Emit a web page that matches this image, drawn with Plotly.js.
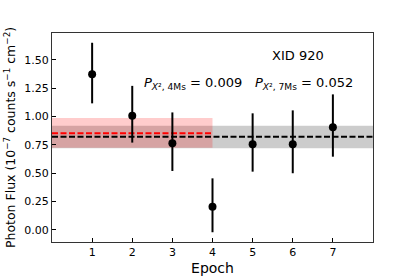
<!DOCTYPE html>
<html>
<head>
<meta charset="utf-8">
<script src="https://cdn.plot.ly/plotly-3.0.1.min.js"></script>
<style>html,body{margin:0;padding:0;background:#fff;}#chart{width:415px;height:277px;}</style>
</head>
<body>
<div id="chart"></div>
<script>
// Data
const epochs = [1, 2, 3, 4, 5, 6, 7];
const flux = [1.372, 1.007, 0.764, 0.205, 0.755, 0.755, 0.905];
const errUp = [0.278, 0.263, 0.272, 0.250, 0.273, 0.299, 0.290];
const errDown = [0.256, 0.237, 0.244, 0.225, 0.241, 0.255, 0.259];

// 7Ms mean and 1-sigma band (all epochs)
const mean7 = 0.822;
const band7 = [0.720, 0.919];
const span7 = [0, 8];
// 4Ms mean and 1-sigma band (epochs 1-4)
const mean4 = 0.852;
const band4 = [0.725, 0.987];
const span4 = [0, 4];

const xTicks = [1, 2, 3, 4, 5, 6, 7];
const yTicks = [0.00, 0.25, 0.50, 0.75, 1.00, 1.25, 1.50];
const yTickText = yTicks.map(v => v.toFixed(2));

const FONT = 'DejaVu Sans, sans-serif';

function band(span, b, color) {
  return {
    x: [span[0], span[1], span[1], span[0], span[0]],
    y: [b[0], b[0], b[1], b[1], b[0]],
    mode: 'lines', fill: 'toself', fillcolor: color,
    line: {width: 0}, hoverinfo: 'skip', showlegend: false
  };
}
function hline(span, m, color) {
  return {
    x: [span[0], span[1]], y: [m, m], mode: 'lines',
    line: {color: color, width: 2, dash: '6px,2.5px'},
    hoverinfo: 'skip', showlegend: false
  };
}

const traces = [
  band(span7, band7, 'rgba(0,0,0,0.2)'),
  band(span4, band4, 'rgba(255,0,0,0.2)'),
  hline(span7, mean7, '#000000'),
  hline(span4, mean4, '#ff0000'),
  {
    x: epochs, y: flux, mode: 'markers', type: 'scatter',
    marker: {color: '#000', size: 8},
    error_y: {type: 'data', symmetric: false, array: errUp, arrayminus: errDown,
              color: '#000', thickness: 2, width: 0},
    showlegend: false
  }
];

const layout = {
  width: 415, height: 277,
  margin: {l: 52, r: 42, t: 33, b: 35},
  paper_bgcolor: '#fff', plot_bgcolor: '#fff',
  font: {family: FONT, color: '#000', size: 11},
  showlegend: false,
  xaxis: {
    range: [0, 8], tickvals: xTicks, ticktext: xTicks.map(String),
    ticks: 'inside', ticklen: 4, tickcolor: '#000', tickwidth: 1,
    showgrid: false, zeroline: false,
    showline: true, linecolor: '#333', linewidth: 1, mirror: true,
    tickfont: {size: 11, family: FONT},
    title: {text: 'Epoch', font: {size: 14, family: FONT}, standoff: 4}
  },
  yaxis: {
    range: [-0.106, 1.736], tickvals: yTicks, ticktext: yTickText,
    ticks: 'inside', ticklen: 4, tickcolor: '#000', tickwidth: 1,
    showgrid: false, zeroline: false,
    showline: true, linecolor: '#333', linewidth: 1, mirror: true,
    tickfont: {size: 11, family: FONT},
    title: {text: 'Photon Flux (10<sup>\u22127</sup> counts s<sup>\u22121</sup> cm<sup>\u22122</sup>)',
            font: {size: 12.5, family: FONT}, standoff: 5}
  },
  annotations: [
    {x: 6.14, y: 1.54, xref: 'x', yref: 'y', text: 'XID 920', showarrow: false,
     font: {size: 13, family: FONT}, xanchor: 'center', yanchor: 'middle'},
    {x: 3.51, y: 1.295, xref: 'x', yref: 'y',
     text: '<i>P</i><sub><i>X</i>\u00b2, 4Ms</sub> = 0.009', showarrow: false,
     font: {size: 13, family: FONT}, xanchor: 'center', yanchor: 'middle'},
    {x: 6.29, y: 1.295, xref: 'x', yref: 'y',
     text: '<i>P</i><sub><i>X</i>\u00b2, 7Ms</sub> = 0.052', showarrow: false,
     font: {size: 13, family: FONT}, xanchor: 'center', yanchor: 'middle'}
  ]
};

Plotly.newPlot('chart', traces, layout, {displayModeBar: false, staticPlot: true});
</script>
</body>
</html>
